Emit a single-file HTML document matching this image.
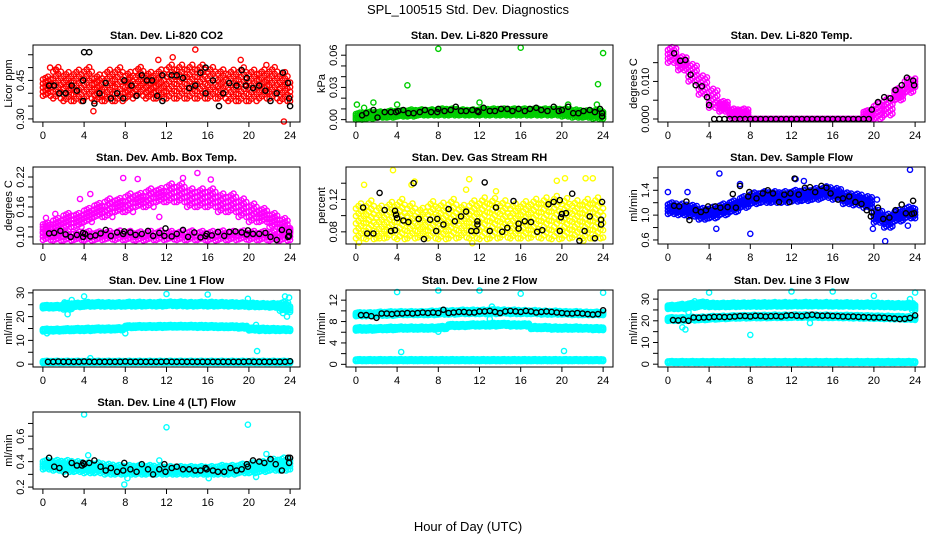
<!DOCTYPE html>
<html><head><meta charset="utf-8"><style>
html,body{margin:0;padding:0;background:#fff;}
svg{display:block;font-family:"Liberation Sans",Arial,sans-serif;}
</style></head><body>
<svg id="chart" width="936" height="540" viewBox="0 0 936 540" xmlns="http://www.w3.org/2000/svg">
<text x="468" y="14" text-anchor="middle" font-size="13">SPL_100515  Std. Dev. Diagnostics</text>
<text x="468" y="531" text-anchor="middle" font-size="13">Hour of Day (UTC)</text>
</svg>
<script>
// ---------- data ----------
const hours = [0,1,2,3,4,5,6,7,8,9,10,11,12,13,14,15,16,17,18,19,20,21,22,23,24];
const halfHours = [0.5,1,1.5,2,2.5,3,3.5,4,4.5,5,5.5,6,6.5,7,7.5,8,8.5,9,9.5,10,10.5,11,11.5,12,12.5,13,13.5,14,14.5,15,15.5,16,16.5,17,17.5,18,18.5,19,19.5,20,20.5,21,21.5,22,22.5,23,23.5,24];

// CO2
const co2Lo = [0.39,0.38,0.37,0.37,0.38,0.37,0.37,0.37,0.38,0.39,0.38,0.38,0.38,0.38,0.38,0.38,0.38,0.38,0.37,0.37,0.37,0.38,0.38,0.37,0.37];
const co2Hi = [0.47,0.51,0.49,0.50,0.51,0.48,0.50,0.51,0.49,0.51,0.49,0.50,0.52,0.52,0.52,0.52,0.51,0.50,0.50,0.51,0.50,0.50,0.51,0.49,0.46];
const co2OutT = [4.9,14.8,12.6,11.2,23.4,19.2,21.7,0.7,1.3];
const co2OutV = [0.33,0.57,0.54,0.53,0.29,0.53,0.51,0.50,0.49];
const co2KT = [0.6,1.1,1.6,2.2,2.8,3.3,3.9,3.9,4.0,4.5,5.0,5.5,6.1,6.6,7.2,7.8,7.9,8.6,9.1,9.6,10.1,10.6,11.1,11.6,11.6,12.5,13.0,13.6,14.2,14.8,15.3,15.8,15.8,16.5,17.1,17.5,18.1,18.8,19.3,19.7,19.8,20.4,21.0,21.6,22.1,22.7,23.3,23.8,23.9,24.0];
const co2KV = [0.43,0.43,0.40,0.40,0.43,0.41,0.37,0.45,0.56,0.56,0.36,0.40,0.44,0.38,0.40,0.38,0.45,0.43,0.39,0.47,0.45,0.45,0.39,0.37,0.47,0.47,0.47,0.46,0.42,0.43,0.48,0.40,0.50,0.45,0.35,0.40,0.44,0.43,0.49,0.43,0.46,0.42,0.43,0.41,0.37,0.40,0.48,0.44,0.38,0.35];

// Pressure
const presLo = [0.000,0.001,0.002,0.002,0.003,0.003,0.004,0.004,0.004,0.004,0.004,0.004,0.004,0.004,0.004,0.004,0.004,0.004,0.004,0.004,0.003,0.002,0.002,0.001,0.001];
const presHi = [0.007,0.008,0.008,0.009,0.009,0.010,0.010,0.010,0.011,0.011,0.010,0.010,0.011,0.011,0.011,0.011,0.011,0.011,0.011,0.011,0.011,0.010,0.009,0.010,0.009];
const presOutT = [0.1,0.8,1.7,4.0,5.0,8.0,12.0,16.0,20.6,23.5,24.0,23.4];
const presOutV = [0.014,0.011,0.016,0.014,0.032,0.066,0.016,0.067,0.014,0.033,0.062,0.014];
const presKT = [0.6,1.0,1.7,2.1,2.8,3.4,3.9,4.1,4.6,5.1,5.6,6.2,6.7,7.3,7.9,8.0,8.6,9.2,9.7,10.2,10.7,11.3,11.8,11.9,12.4,13.0,13.5,14.1,14.7,15.2,15.8,16.4,16.9,17.5,18.0,18.6,19.2,19.7,20.0,20.6,21.1,21.6,22.1,22.7,23.2,23.7,23.9,23.9];
const presKV = [0.004,0.006,0.009,0.002,0.007,0.007,0.007,0.008,0.009,0.006,0.006,0.007,0.009,0.007,0.007,0.010,0.008,0.009,0.012,0.008,0.008,0.009,0.008,0.007,0.011,0.008,0.008,0.010,0.010,0.008,0.010,0.008,0.010,0.011,0.009,0.008,0.012,0.008,0.009,0.012,0.006,0.006,0.008,0.009,0.007,0.010,0.006,0.003];

// Li-820 temp
const tempLo = [0.0150,0.0130,0.0100,0.0065,0.0030,0.0020,0,0,0,0,0,0,0,0,0,0,0,0,0,0,0,0.0010,0.0050,0.0070,0.0085];
const tempHi = [0.0195,0.0170,0.0150,0.0120,0.0085,0.0050,0.0030,0.0030,0,0,0,0,0,0,0,0,0,0,0,0.0025,0.0045,0.0060,0.0085,0.0110,0.0115];
const tempKT = [0.6,1.2,1.7,2.2,2.7,3.3,3.8,4.0,4.5,5,5.5,6,6.5,7,7.5,8,8.5,9,9.5,10,10.5,11,11.5,12,12.5,13,13.5,14,14.5,15,15.5,16,16.5,17,17.5,18,18.5,19,19.5,19.8,20.4,21.0,21.6,22.1,22.7,23.2,23.8,23.9];
const tempKV = [0.0175,0.0155,0.0157,0.0118,0.0090,0.0087,0.0058,0.0037,0,0,0,0,0,0,0,0,0,0,0,0,0,0,0,0,0,0,0,0,0,0,0,0,0,0,0,0,0,0,0,0.0025,0.0045,0.0058,0.0055,0.0077,0.0090,0.0110,0.0102,0.0090];

// Amb box temp
const ambUpLo = [0.11,0.11,0.12,0.12,0.13,0.14,0.14,0.15,0.15,0.16,0.16,0.17,0.17,0.17,0.16,0.16,0.16,0.15,0.15,0.14,0.13,0.13,0.12,0.11,0.11];
const ambUpHi = [0.13,0.14,0.15,0.15,0.16,0.17,0.18,0.18,0.19,0.19,0.20,0.20,0.21,0.21,0.20,0.20,0.20,0.19,0.19,0.18,0.17,0.16,0.15,0.14,0.12];
const ambBaseLo = [0.094,0.093,0.093,0.094,0.093,0.094,0.095,0.094,0.094,0.093,0.094,0.094,0.095,0.094,0.094,0.094,0.093,0.094,0.094,0.095,0.094,0.094,0.093,0.093,0.094];
const ambBaseHi = [0.114,0.113,0.113,0.112,0.114,0.113,0.114,0.115,0.114,0.113,0.114,0.115,0.114,0.114,0.115,0.114,0.114,0.115,0.114,0.115,0.114,0.114,0.113,0.114,0.113];
const ambOutT = [0.3,1.2,3.6,4.6,7.8,9.2,11.3,15.0,16.3,13.6];
const ambOutV = [0.138,0.146,0.176,0.186,0.218,0.216,0.140,0.228,0.215,0.218];
const ambKT = [0.6,1.1,1.7,2.2,2.7,3.3,3.9,3.9,4.1,4.6,5.1,5.6,6.1,6.6,7.2,7.8,7.9,8.5,9.0,9.6,10.2,10.7,11.3,11.8,11.9,12.5,13.0,13.6,14.1,14.7,15.3,15.8,15.9,16.4,17.0,17.6,18.1,18.7,19.3,19.8,19.9,20.4,21.0,21.6,22.1,22.7,23.2,23.8,23.9,23.9];
const ambKV = [0.107,0.108,0.112,0.105,0.100,0.104,0.100,0.108,0.106,0.101,0.103,0.107,0.114,0.102,0.109,0.106,0.111,0.109,0.104,0.106,0.112,0.102,0.108,0.102,0.117,0.101,0.106,0.114,0.100,0.109,0.099,0.102,0.106,0.103,0.110,0.102,0.110,0.111,0.109,0.105,0.113,0.106,0.106,0.108,0.100,0.094,0.114,0.100,0.102,0.110];

// Gas stream RH
const rhLo = [0.072,0.071,0.072,0.073,0.071,0.072,0.073,0.072,0.071,0.072,0.073,0.072,0.071,0.072,0.073,0.072,0.072,0.073,0.072,0.071,0.072,0.073,0.072,0.072,0.073];
const rhHi = [0.118,0.122,0.115,0.120,0.124,0.118,0.112,0.121,0.119,0.124,0.116,0.122,0.126,0.125,0.122,0.118,0.121,0.124,0.126,0.128,0.125,0.122,0.124,0.126,0.118];
const rhOutT = [0.3,0.8,2.3,3.6,5.4,5.7,10.7,11.0,11.3,13.6,19.5,20.3,22.1,22.3,23.0];
const rhOutV = [0.067,0.138,0.072,0.156,0.138,0.142,0.132,0.145,0.066,0.130,0.143,0.146,0.069,0.146,0.146];
const rhKT = [0.7,1.1,1.7,2.3,2.8,3.4,3.8,3.8,3.9,4.0,4.6,5.1,5.6,6.1,6.6,7.2,7.8,7.9,8.5,9.0,9.6,10.2,10.7,11.2,11.7,11.8,11.8,12.5,13.0,13.6,14.2,14.7,15.3,15.8,15.8,16.4,17.0,17.6,18.1,18.7,19.2,19.8,19.8,19.9,20.0,20.4,21.0,21.7,22.2,22.7,23.2,23.8,23.8,23.9];
const rhKV = [0.110,0.078,0.078,0.128,0.107,0.081,0.082,0.106,0.101,0.097,0.094,0.092,0.140,0.096,0.071,0.095,0.081,0.096,0.089,0.108,0.093,0.099,0.105,0.081,0.081,0.089,0.093,0.141,0.081,0.110,0.080,0.085,0.118,0.084,0.090,0.093,0.092,0.080,0.082,0.114,0.117,0.119,0.081,0.098,0.102,0.103,0.127,0.069,0.081,0.099,0.072,0.095,0.089,0.117];

// Sample flow
const flowLo = [1.02,1.00,0.98,0.93,0.95,1.00,1.05,1.12,1.18,1.20,1.20,1.20,1.22,1.23,1.25,1.28,1.25,1.18,1.16,1.12,0.88,0.80,0.90,0.95,0.95];
const flowHi = [1.22,1.20,1.18,1.13,1.15,1.20,1.25,1.32,1.38,1.40,1.40,1.40,1.42,1.43,1.45,1.48,1.45,1.38,1.36,1.32,1.10,1.04,1.10,1.15,1.15];
const flowOutT = [5.0,4.7,8.0,12.4,13.2,20.3,21.1,23.5,23.3,1.9,0.0,7.0,19.9];
const flowOutV = [1.67,0.78,0.70,1.58,1.55,1.25,0.58,1.73,0.83,1.37,1.37,1.50,0.78];
const flowKT = [0.6,1.1,1.8,2.1,2.7,3.2,3.7,3.9,4.6,5.1,5.8,6.3,6.6,7.0,7.8,7.9,8.6,9.2,9.7,10.2,10.8,11.3,11.8,11.9,12.3,12.7,13.3,13.8,14.3,14.9,15.4,15.8,16.5,17.0,17.6,18.2,18.8,19.3,19.7,19.8,20.4,20.9,21.5,22.1,22.7,23.1,23.7,23.8,23.9];
const flowKV = [1.15,1.14,1.22,0.92,1.08,1.05,1.08,1.14,1.14,1.12,1.13,1.34,1.12,1.47,1.30,1.37,1.27,1.35,1.40,1.35,1.21,1.33,1.21,1.35,1.59,1.33,1.44,1.45,1.37,1.47,1.44,1.35,1.25,1.27,1.30,1.21,1.18,1.08,0.98,1.04,1.12,0.94,0.96,1.08,1.17,1.03,1.02,1.23,1.03];

// Line 1 flow
const l1aLo = [23.5,23.5,23.0,24.0,24.2,24.3,24.2,24.2,24.3,24.3,24.4,24.3,24.5,24.4,24.3,24.4,24.3,24.4,24.3,24.2,24.0,24.0,23.8,22.5,22.0];
const l1aHi = [25.0,25.0,26.0,26.0,26.3,26.3,26.2,26.2,26.4,26.4,26.3,26.4,26.5,26.5,26.3,26.4,26.4,26.3,26.2,26.1,26.0,25.8,25.8,26.5,25.0];
const l1bLo = [13.8,13.8,13.9,14.0,14.0,14.2,14.2,14.3,15.2,15.3,15.3,15.3,15.4,15.4,15.4,15.3,15.3,15.2,15.2,15.0,14.2,14.0,14.0,14.0,14.0];
const l1bHi = [15.0,15.0,15.2,15.3,15.4,15.5,15.5,15.6,16.4,16.5,16.5,16.6,16.6,16.6,16.6,16.6,16.5,16.4,16.4,16.3,15.5,15.4,15.3,15.2,15.0];
const l1cLo = [0.5,0.5,0.5,0.5,0.5,0.5,0.5,0.5,0.5,0.5,0.5,0.5,0.5,0.5,0.5,0.5,0.5,0.5,0.5,0.5,0.5,0.5,0.5,0.5,0.5];
const l1cHi = [1.5,1.5,1.5,1.5,1.5,1.5,1.5,1.5,1.5,1.5,1.5,1.5,1.5,1.5,1.5,1.5,1.5,1.5,1.5,1.5,1.5,1.5,1.5,1.5,1.5];
const l1OutT = [0.4,2.1,2.4,2.8,4.0,4.6,8.0,12.0,16.0,19.9,20.7,20.8,23.5,23.9,23.7,23.3];
const l1OutV = [13,26,21,27,28.5,2.5,13,29.5,29.3,27.5,16.5,5.5,28.5,28,20,21.5];
const l1KV = [1.0,1.0,1.1,1.0,1.0,1.0,1.0,1.1,1.0,1.0,1.0,1.0,1.0,1.0,1.0,1.1,1.0,1.0,1.0,1.0,1.0,1.0,1.0,1.1,1.0,1.0,1.0,1.0,1.0,1.0,1.0,1.0,1.0,1.0,1.0,1.0,1.0,1.0,1.0,1.1,1.0,1.0,1.0,1.0,1.0,1.0,1.0,1.2];

// Line 2 flow
const l2aLo = [9.0,9.0,9.1,9.1,9.2,9.2,9.2,9.2,9.3,9.3,9.4,9.4,9.4,9.4,9.5,9.4,9.4,9.4,9.3,9.3,9.3,9.2,9.2,9.2,9.2];
const l2aHi = [9.8,9.8,9.9,10.0,10.0,10.0,10.0,10.1,10.2,10.2,10.3,10.3,10.3,10.4,10.3,10.3,10.2,10.2,10.1,10.1,10.0,10.0,9.9,9.9,9.9];
const l2bLo = [6.3,6.3,6.4,6.4,6.5,6.5,6.5,6.5,6.6,7.0,7.0,7.1,7.1,7.1,7.2,7.1,7.1,6.6,6.6,6.5,6.5,6.5,6.5,6.4,6.4];
const l2bHi = [7.0,7.0,7.0,7.1,7.1,7.1,7.1,7.1,7.2,7.6,7.6,7.7,7.7,7.8,7.8,7.7,7.7,7.2,7.2,7.1,7.1,7.1,7.0,7.0,7.0];
const l2cLo = [0.6,0.6,0.6,0.6,0.6,0.6,0.6,0.6,0.6,0.6,0.6,0.6,0.6,0.6,0.6,0.6,0.6,0.6,0.6,0.6,0.6,0.6,0.6,0.6,0.6];
const l2cHi = [1.0,1.0,1.0,1.0,1.0,1.0,1.0,1.0,1.0,1.0,1.0,1.0,1.0,1.0,1.0,1.0,1.0,1.0,1.0,1.0,1.0,1.0,1.0,1.0,1.0];
const l2OutT = [4.0,4.4,8.0,8.0,12.0,16.0,20.2,24.0,13.2,13.0];
const l2OutV = [13.5,2.3,13.8,6.1,13.8,13.2,2.5,13.4,10.8,8.5];
const l2KV = [9.2,9.2,9.0,8.7,9.5,9.5,9.4,9.5,9.5,9.6,9.5,9.6,9.7,9.6,9.7,9.6,10.2,9.6,9.7,9.8,9.8,9.7,9.7,9.9,9.9,10.0,9.8,9.6,9.9,10.0,9.9,9.8,10.0,9.9,9.7,9.8,9.9,9.8,9.7,9.6,9.5,9.5,9.6,9.5,9.4,9.3,9.4,10.1];

// Line 3 flow
const l3aLo = [25.5,25.5,26.0,26.5,26.3,26.3,26.4,26.5,26.5,26.5,26.6,26.6,26.7,26.7,26.7,26.7,26.6,26.6,26.5,26.5,26.4,26.3,26.2,26.0,25.0];
const l3aHi = [27.5,28.0,28.5,29.0,28.5,28.5,28.6,28.6,28.7,28.7,28.8,28.8,28.8,28.9,28.8,28.8,28.7,28.7,28.6,28.6,28.5,28.4,28.3,28.5,28.0];
const l3bLo = [20.0,20.0,20.2,20.3,20.6,20.8,21.0,21.1,21.2,21.2,21.3,21.3,21.4,21.4,21.4,21.3,21.3,21.2,21.1,21.0,20.9,20.8,20.7,20.5,20.4];
const l3bHi = [21.8,21.8,22.0,22.1,22.4,22.5,22.7,22.8,22.9,22.9,23.0,23.0,23.1,23.1,23.0,23.0,22.9,22.9,22.8,22.7,22.6,22.5,22.4,22.2,22.0];
const l3cLo = [0.6,0.6,0.6,0.6,0.6,0.6,0.6,0.6,0.6,0.6,0.6,0.6,0.6,0.6,0.6,0.6,0.6,0.6,0.6,0.6,0.6,0.6,0.6,0.6,0.6];
const l3cHi = [1.5,1.5,1.5,1.5,1.5,1.5,1.5,1.5,1.5,1.5,1.5,1.5,1.5,1.5,1.5,1.5,1.5,1.5,1.5,1.5,1.5,1.5,1.5,1.5,1.5];
const l3OutT = [0.2,1.4,1.7,2.6,4.0,8.0,12.0,16.0,20.0,23.5,24.0,13.8,23.7,2.0];
const l3OutV = [26,17,16,29,33,13.5,33.5,33.5,31.5,30,33,19,25,24];
const l3KV = [20.3,20.2,20.5,20.0,21.5,21.4,21.5,21.6,21.8,21.8,21.7,21.8,22.0,22.2,22.2,22.0,22.3,22.2,22.0,22.1,22.2,22.0,22.4,22.6,22.3,22.1,22.5,22.8,22.5,22.3,22.4,22.2,22.1,22.0,21.9,22.0,21.8,21.7,21.6,21.5,21.5,21.4,21.2,21.0,20.8,20.9,21.3,22.5];

// Line 4 flow
const l4Lo = [0.34,0.33,0.32,0.32,0.31,0.31,0.30,0.30,0.30,0.30,0.30,0.30,0.30,0.30,0.30,0.30,0.30,0.30,0.30,0.31,0.31,0.32,0.33,0.33,0.34];
const l4Hi = [0.42,0.42,0.42,0.41,0.40,0.40,0.39,0.38,0.38,0.38,0.38,0.37,0.37,0.37,0.37,0.37,0.37,0.38,0.38,0.39,0.40,0.41,0.43,0.44,0.43];
const l4OutT = [4.0,12.0,19.9,7.9,8.2,16.1,20.7,4.4,11.3,21.7];
const l4OutV = [0.77,0.67,0.69,0.22,0.27,0.27,0.28,0.45,0.41,0.46];
const l4KT = [0.6,1.1,1.6,2.2,2.8,3.3,3.8,3.9,4.0,4.5,5.0,5.6,6.1,6.6,7.2,7.8,7.9,8.5,9.1,9.6,10.2,10.7,11.3,11.8,11.9,12.5,13.0,13.6,14.2,14.8,15.3,15.8,15.9,16.5,17.0,17.6,18.2,18.8,19.3,19.8,19.9,20.4,21.0,21.5,22.1,22.6,23.2,23.8,23.9,24.0];
const l4KV = [0.43,0.36,0.35,0.30,0.39,0.37,0.37,0.39,0.38,0.39,0.41,0.36,0.33,0.35,0.32,0.33,0.39,0.34,0.32,0.38,0.34,0.30,0.34,0.38,0.32,0.35,0.36,0.34,0.34,0.33,0.33,0.35,0.34,0.33,0.32,0.32,0.35,0.33,0.34,0.38,0.36,0.41,0.40,0.39,0.42,0.38,0.33,0.43,0.39,0.43];

// ---------- drawing ----------
const NS = "http://www.w3.org/2000/svg";
const svg = document.getElementById('chart');
const COLX = [33,346,658], ROWY = [45,167,290,412], PW = 267, PH = 77;
const XMIN = -0.96, XMAX = 24.96;

function mk(tag, attrs, parent){
  const e = document.createElementNS(NS, tag);
  for (const k in attrs) e.setAttribute(k, attrs[k]);
  (parent||svg).appendChild(e);
  return e;
}

function panel(cfg){
  const L = COLX[cfg.col], T = ROWY[cfg.row];
  const g = mk('g', {});
  
  
  const xs = t => L + (t - XMIN) / (XMAX - XMIN) * PW;
  const ys = v => T + PH - (v - cfg.ylim[0]) / (cfg.ylim[1] - cfg.ylim[0]) * PH;
  const marks = mk('g', {fill:'none','stroke-width':'1.4'}, g);
  
  
  function dot(t, v, col){
    const c = mk('circle', {cx:xs(t).toFixed(1), cy:ys(v).toFixed(1), r:'2.6', stroke:col}, marks);
    
    
  }
  (cfg.bands||[]).forEach(b => {
    const nx = b.nx || 5, ny = b.ny || 4;
    hours.forEach((h, i) => {
      for (let k = 0; k < nx; k++){
        const t = h + k / nx;
        if (t > 24) continue;
        for (let j = 0; j < ny; j++){
          const f = (j + ((k * 7) % 3) / 3) / ny;
          dot(t, b.lo[i] + (b.hi[i] - b.lo[i]) * f, b.col);
        }
      }
    });
  });
  (cfg.outs||[]).forEach(o => o.t.forEach((t, i) => dot(t, o.v[i], o.col)));
  (cfg.black||[]).forEach(o => o.t.forEach((t, i) => dot(t, o.v[i], '#000')));
  const box = mk('rect', {x:L, y:T, width:PW, height:PH, fill:'none', stroke:'#000', 'stroke-width':'1'}, g);
  
  
  const xa = mk('g', {}, g);
  
  
  mk('line', {x1:xs(0), x2:xs(24), y1:T+PH, y2:T+PH, stroke:'#000'}, xa);
  [0,4,8,12,16,20,24].forEach(t => {
    mk('line', {x1:xs(t), x2:xs(t), y1:T+PH, y2:T+PH+5, stroke:'#000'}, xa);
    const tx = mk('text', {x:xs(t), y:T+PH+17, 'text-anchor':'middle', 'font-size':'11'}, xa);
    tx.textContent = t;
  });
  const ya = mk('g', {}, g);
  
  
  const tk = cfg.ticks;
  mk('line', {x1:L, x2:L, y1:ys(tk[0]), y2:ys(tk[tk.length-1]), stroke:'#000'}, ya);
  tk.forEach((v, i) => {
    mk('line', {x1:L-5, x2:L, y1:ys(v), y2:ys(v), stroke:'#000'}, ya);
    if (cfg.labels[i] !== ''){
      const tx = mk('text', {x:L-9, y:ys(v), 'text-anchor':'middle', 'font-size':'11', transform:`rotate(-90 ${L-9} ${ys(v)})`}, ya);
      tx.textContent = cfg.labels[i];
    }
  });
  const yl = mk('text', {x:L-21, y:T+PH/2, 'text-anchor':'middle', 'font-size':'11', transform:`rotate(-90 ${L-21} ${T+PH/2})`}, g);
  
  
  yl.textContent = cfg.ylab;
  const tt = mk('text', {x:L+PW/2, y:T-6, 'text-anchor':'middle', 'font-size':'11', 'font-weight':'bold'}, g);
  
  
  tt.textContent = cfg.title;
}

const R='#ff0000', G='#00cd00', M='#ff00ff', Y='#ffff00', B='#0000ff', C='#00ffff';
panel({name:'co2-panel', col:0,row:0, title:'Stan. Dev. Li-820 CO2', ylab:'Licor ppm', ylim:[0.288,0.588],
  ticks:[0.30,0.35,0.40,0.45,0.50,0.55], labels:['0.30','','','0.45','',''],
  bands:[{lo:co2Lo,hi:co2Hi,col:R,nx:4,ny:5}], outs:[{t:co2OutT,v:co2OutV,col:R}], black:[{t:co2KT,v:co2KV}]});
panel({name:'pressure-panel', col:1,row:0, title:'Stan. Dev. Li-820 Pressure', ylab:'kPa', ylim:[-0.0022,0.0695],
  ticks:[0,0.01,0.02,0.03,0.04,0.05,0.06], labels:['0.00','','','0.03','','','0.06'],
  bands:[{lo:presLo,hi:presHi,col:G}], outs:[{t:presOutT,v:presOutV,col:G}], black:[{t:presKT,v:presKV}]});
panel({name:'li820-temp-panel', col:2,row:0, title:'Stan. Dev. Li-820 Temp.', ylab:'degrees C', ylim:[-0.0008,0.0197],
  ticks:[0,0.005,0.010,0.015], labels:['0.000','','0.010',''],
  bands:[{lo:tempLo,hi:tempHi,col:M}], black:[{t:tempKT,v:tempKV}]});
panel({name:'amb-box-temp-panel', col:0,row:1, title:'Stan. Dev. Amb. Box Temp.', ylab:'degrees C', ylim:[0.0858,0.240],
  ticks:[0.10,0.12,0.14,0.16,0.18,0.20,0.22], labels:['0.10','','','0.16','','','0.22'],
  bands:[{lo:ambUpLo,hi:ambUpHi,col:M,nx:4,ny:4},{lo:ambBaseLo,hi:ambBaseHi,col:M,nx:4,ny:3}], outs:[{t:ambOutT,v:ambOutV,col:M}], black:[{t:ambKT,v:ambKV}]});
panel({name:'gas-rh-panel', col:1,row:1, title:'Stan. Dev. Gas Stream RH', ylab:'percent', ylim:[0.065,0.16],
  ticks:[0.08,0.10,0.12,0.14], labels:['0.08','','0.12',''],
  bands:[{lo:rhLo,hi:rhHi,col:Y,nx:4,ny:5}], outs:[{t:rhOutT,v:rhOutV,col:Y}], black:[{t:rhKT,v:rhKV}]});
panel({name:'sample-flow-panel', col:2,row:1, title:'Stan. Dev. Sample Flow', ylab:'ml/min', ylim:[0.535,1.775],
  ticks:[0.6,0.8,1.0,1.2,1.4,1.6], labels:['0.6','','1.0','','1.4',''],
  bands:[{lo:flowLo,hi:flowHi,col:B}], outs:[{t:flowOutT,v:flowOutV,col:B}], black:[{t:flowKT,v:flowKV}]});
panel({name:'line1-flow-panel', col:0,row:2, title:'Stan. Dev. Line 1 Flow', ylab:'ml/min', ylim:[-1.2,31.2],
  ticks:[0,5,10,15,20,25,30], labels:['0','','10','','20','','30'],
  bands:[{lo:l1aLo,hi:l1aHi,col:C},{lo:l1bLo,hi:l1bHi,col:C},{lo:l1cLo,hi:l1cHi,col:C}], outs:[{t:l1OutT,v:l1OutV,col:C}], black:[{t:halfHours,v:l1KV}]});
panel({name:'line2-flow-panel', col:1,row:2, title:'Stan. Dev. Line 2 Flow', ylab:'ml/min', ylim:[-0.5,13.9],
  ticks:[0,2,4,6,8,10,12], labels:['0','','4','','8','','12'],
  bands:[{lo:l2aLo,hi:l2aHi,col:C},{lo:l2bLo,hi:l2bHi,col:C},{lo:l2cLo,hi:l2cHi,col:C}], outs:[{t:l2OutT,v:l2OutV,col:C}], black:[{t:halfHours,v:l2KV}]});
panel({name:'line3-flow-panel', col:2,row:2, title:'Stan. Dev. Line 3 Flow', ylab:'ml/min', ylim:[-1.3,34.2],
  ticks:[0,5,10,15,20,25,30], labels:['0','','10','','20','','30'],
  bands:[{lo:l3aLo,hi:l3aHi,col:C},{lo:l3bLo,hi:l3bHi,col:C},{lo:l3cLo,hi:l3cHi,col:C}], outs:[{t:l3OutT,v:l3OutV,col:C}], black:[{t:halfHours,v:l3KV}]});
panel({name:'line4-flow-panel', col:0,row:3, title:'Stan. Dev. Line 4 (LT) Flow', ylab:'ml/min', ylim:[0.185,0.79],
  ticks:[0.2,0.3,0.4,0.5,0.6,0.7], labels:['0.2','','0.4','','0.6',''],
  bands:[{lo:l4Lo,hi:l4Hi,col:C}], outs:[{t:l4OutT,v:l4OutV,col:C}], black:[{t:l4KT,v:l4KV}]});
</script>
</body></html>
